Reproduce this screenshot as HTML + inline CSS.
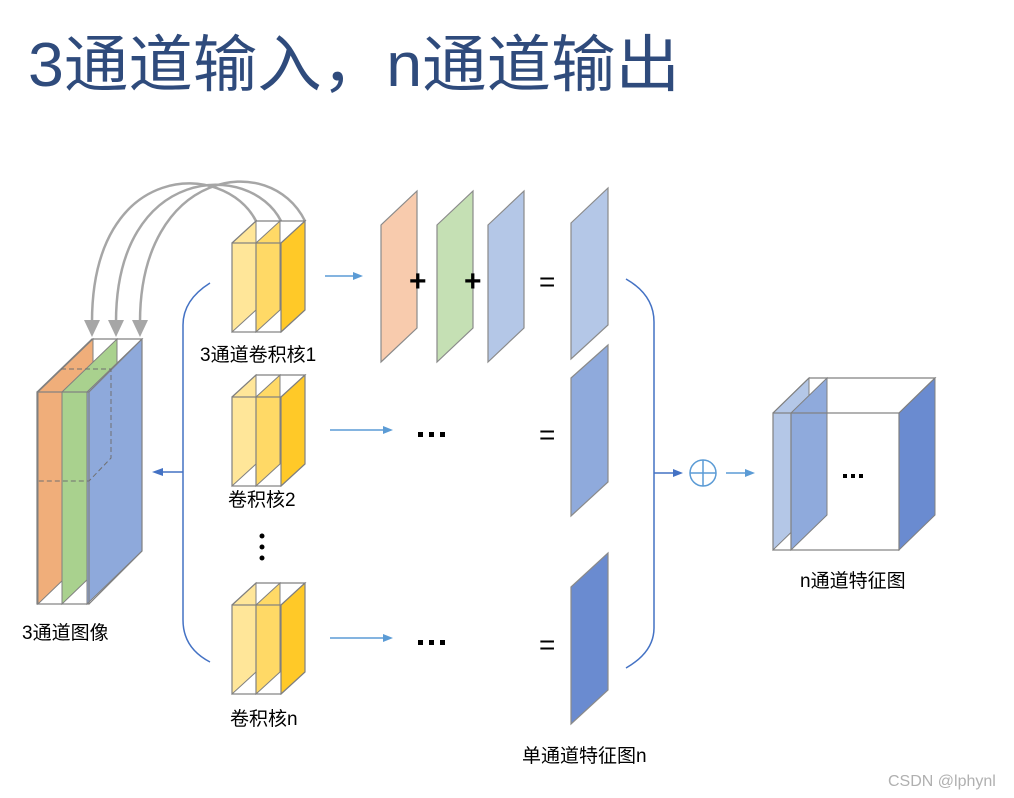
<!DOCTYPE html>
<html><head><meta charset="utf-8"><style>
html,body{margin:0;padding:0;background:#fff;}
svg{display:block;}
text{font-family:"Liberation Sans","Noto Sans CJK SC",sans-serif;}
</style></head><body>
<svg width="1014" height="798" viewBox="0 0 1014 798" xmlns="http://www.w3.org/2000/svg">
<text x="28" y="86" font-size="62" fill="#2F4B7C" textLength="652" lengthAdjust="spacingAndGlyphs">3通道输入，n通道输出</text>

<!-- gray arcs -->
<g fill="none" stroke="#A6A6A6" stroke-width="2.5">
<path d="M256,221 C225,160 92,160 92,322"/>
<path d="M281,221 C250,160 116,165 116,322"/>
<path d="M305,221 C270,150 140,170 140,322"/>
</g>
<g fill="#A6A6A6">
<path d="M84,320 L100,320 L92,337 z"/>
<path d="M108,320 L124,320 L116,337 z"/>
<path d="M132,320 L148,320 L140,337 z"/>
</g>

<!-- left image stack -->
<g stroke="#808080" stroke-width="1">
<path d="M38,392 L93,339 L93,551 L38,604 z" fill="#F0AE7A"/>
<path d="M62,392 L117,339 L117,551 L62,604 z" fill="#A9D18E"/>
<path d="M87,392 L142,339 L142,551 L87,604 z" fill="#8EA9DB"/>
</g>
<g fill="none" stroke="#808080" stroke-width="1.2">
<rect x="37" y="392" width="52" height="212"/>
<path d="M37,392 L92,339 L142,339 L89,392"/>
<path d="M142,339 L142,551 L89,604"/>
</g>
<g fill="none" stroke="#707070" stroke-width="1" stroke-dasharray="5,3">
<path d="M61,369 L111,369 L111,458 L89,481 L37,481"/>
</g>
<text x="22" y="639" font-size="19" fill="#000">3通道图像</text>

<!-- kernels -->
<g id="k1">
<g stroke="#808080" stroke-width="1">
<path d="M232,243 L256,221 L256,310 L232,332 z" fill="#FFE699"/>
<path d="M256,243 L280,221 L280,310 L256,332 z" fill="#FFD966"/>
<path d="M281,243 L305,221 L305,310 L281,332 z" fill="#FFC928"/>
</g>
<g fill="none" stroke="#808080" stroke-width="1.2">
<rect x="232" y="243" width="49" height="89"/>
<path d="M232,243 L256,221 L305,221 L281,243"/>
<path d="M305,221 L305,310 L281,332"/>
<line x1="256" y1="243" x2="256" y2="332"/>
</g>
</g>
<use href="#k1" transform="translate(0,154)"/>
<use href="#k1" transform="translate(0,362)"/>
<text x="200" y="361" font-size="19">3通道卷积核1</text>
<text x="228" y="506" font-size="19">卷积核2</text>
<text x="230" y="725" font-size="19">卷积核n</text>
<g fill="#000"><circle cx="262" cy="536" r="2.5"/><circle cx="262" cy="547" r="2.5"/><circle cx="262" cy="558" r="2.5"/></g>

<!-- left bracket -->
<path d="M210,283 Q183,300 183,325 L183,620 Q183,648 210,662" fill="none" stroke="#4472C4" stroke-width="1.5"/>
<line x1="183" y1="472" x2="156" y2="472" stroke="#4472C4" stroke-width="1.5"/>
<path d="M152,472 L163,468 L163,476 z" fill="#4472C4"/>

<!-- small arrows -->
<g stroke="#5B9BD5" stroke-width="1.5">
<line x1="325" y1="276" x2="356" y2="276"/>
<line x1="330" y1="430" x2="386" y2="430"/>
<line x1="330" y1="638" x2="386" y2="638"/>
</g>
<g fill="#5B9BD5">
<path d="M363,276 L353,272 L353,280 z"/>
<path d="M393,430 L383,426 L383,434 z"/>
<path d="M393,638 L383,634 L383,642 z"/>
</g>

<!-- sheets -->
<g stroke="#8A8A8A" stroke-width="1.2">
<path d="M381,225 L417,191 L417,328 L381,362 z" fill="#F8CBAD"/>
<path d="M437,225 L473,191 L473,328 L437,362 z" fill="#C5E0B4"/>
<path d="M488,225 L524,191 L524,328 L488,362 z" fill="#B4C7E7"/>
<path d="M571,223 L608,188 L608,325 L571,359 z" fill="#B4C7E7"/>
<path d="M571,378 L608,345 L608,482 L571,516 z" fill="#8FAADC"/>
<path d="M571,587 L608,553 L608,690 L571,724 z" fill="#6A8BD0"/>
</g>
<g font-size="30" font-weight="bold" fill="#000">
<text x="409" y="291">+</text>
<text x="464" y="291">+</text>
</g>
<g font-size="28" fill="#000">
<text x="539" y="291">=</text>
<text x="539" y="444">=</text>
<text x="539" y="654">=</text>
</g>
<g fill="#000">
<rect x="418" y="432" width="5" height="5"/><rect x="429" y="432" width="5" height="5"/><rect x="440" y="432" width="5" height="5"/>
<rect x="418" y="640" width="5" height="5"/><rect x="429" y="640" width="5" height="5"/><rect x="440" y="640" width="5" height="5"/>
</g>
<text x="522" y="762" font-size="19">单通道特征图n</text>

<!-- right bracket -->
<path d="M626,279 Q654,295 654,322 L654,628 Q654,652 626,668" fill="none" stroke="#4472C4" stroke-width="1.5"/>
<line x1="654" y1="473" x2="675" y2="473" stroke="#4472C4" stroke-width="1.5"/>
<path d="M683,473 L673,469 L673,477 z" fill="#4472C4"/>
<g fill="none" stroke="#5B9BD5" stroke-width="1.5">
<circle cx="703" cy="473" r="13"/>
<line x1="690" y1="473" x2="716" y2="473"/><line x1="703" y1="460" x2="703" y2="486"/>
<line x1="726" y1="473" x2="748" y2="473"/>
</g>
<path d="M755,473 L745,469 L745,477 z" fill="#5B9BD5"/>

<!-- output cube -->
<g stroke="#808080" stroke-width="1">
<path d="M773,413 L809,378 L809,515 L773,550 z" fill="#B4C7E7"/>
<path d="M791,413 L827,378 L827,515 L791,550 z" fill="#8FAADC"/>
<path d="M899,413 L935,378 L935,515 L899,550 z" fill="#6A8BD0"/>
</g>
<g fill="none" stroke="#808080" stroke-width="1.2">
<rect x="773" y="413" width="126" height="137"/>
<path d="M773,413 L809,378 L935,378 L899,413"/>
<line x1="791" y1="413" x2="791" y2="550"/>
</g>
<g fill="#000"><rect x="843" y="474" width="4" height="4"/><rect x="851" y="474" width="4" height="4"/><rect x="859" y="474" width="4" height="4"/></g>
<text x="800" y="587" font-size="19">n通道特征图</text>

<text x="888" y="786" font-size="16" fill="#B0B0B0">CSDN @lphynl</text>
</svg>
</body></html>
